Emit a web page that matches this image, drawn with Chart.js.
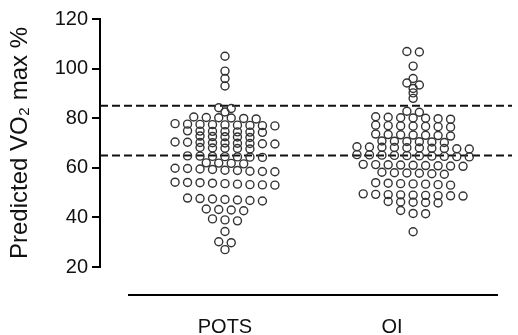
<!DOCTYPE html>
<html>
<head>
<meta charset="utf-8">
<script src="https://cdn.jsdelivr.net/npm/chart.js@4"></script>
<style>
  html, body { margin: 0; padding: 0; background: #fff; }
</style>
</head>
<body>
<canvas id="vo2Chart" width="518" height="335"></canvas>
<script>
// groups shown on the x axis
const groups = ["POTS", "OI"];
// where the group names sit under the baseline (x units)
const groupLabelPos = [1, 1.87];

// predicted VO2 max % per patient
const potsValues = [
  105, 99, 96, 93,
  84.2, 83.9,
  82.5,
  80.5, 80.3, 80.1, 79.9, 79.7, 80.2,
  77.6, 77.4, 77.2, 77.0, 77.5, 77.3, 77.1, 76.9, 77.8,
  74.8, 74.6, 74.4, 74.9, 74.5, 74.3, 74.7,
  72.6, 72.4, 72.2, 72.8, 72.5,
  70.2, 70.0, 69.8, 70.4, 69.6, 70.1, 69.9, 70.3, 69.7,
  68.0, 67.8, 67.6, 68.2, 67.9,
  64.8, 64.6, 64.4, 64.2, 64.7, 64.5, 64.3,
  62.0, 61.8, 61.6, 61.9,
  59.8, 59.5, 59.0, 58.6, 58.4, 58.5, 58.9, 59.3, 59.7,
  54.2, 54.0, 53.6, 53.2, 53.0, 53.1, 53.4, 53.8, 54.1,
  47.8, 47.4, 47.0, 46.6, 46.8, 47.2, 47.6,
  43.4, 43.0, 42.7, 43.2,
  39.4, 39.0, 38.6,
  34.3,
  30.2, 29.8,
  27
];

const oiValues = [
  106.9, 106.7, 101, 96, 94.2, 93.4, 92, 90.2, 88,
  82.8, 82.4,
  80.4, 80.2, 80.0, 79.8, 80.6, 79.6, 80.1,
  77.2, 77.0, 76.8, 76.6, 76.4, 76.9, 76.7,
  73.6, 73.4, 73.2, 73.0, 72.8, 73.3, 73.1,
  70.8, 70.6, 70.4, 70.2, 70.5, 70.7,
  68.5, 68.4, 68.2, 68.0, 67.8, 67.6, 68.3, 68.1, 67.9, 67.7,
  65.2, 65.0, 64.8, 64.6, 64.4, 65.1, 64.9, 64.7, 64.5, 65.3,
  61.4, 61.2, 61.0, 60.8, 60.6, 61.3, 61.1, 60.9, 60.7,
  58.2, 58.0, 57.8, 57.6, 57.4, 57.9,
  54.0, 53.8, 53.5, 53.2, 53.0, 53.4, 53.6,
  49.5, 49.2, 49.0, 48.8, 48.6, 49.3, 49.1, 48.9, 48.7,
  46.4, 46.2, 46.0, 45.8, 46.1,
  42.8, 41.6, 41.5,
  34.2
];

// dashed reference levels
const refLevels = [85, 65];

const yMin = 20, yMax = 120, yStep = 20;
const xMin = 0.349, xMax = 2.495;

// dot layout: values that are close share a row and are spread sideways
const ROW_TOL = 1.5;
const DOT_GAP = 0.065;

function swarm(values, center) {
  const sorted = values.slice().sort((a, b) => b - a);
  const rows = [];
  sorted.forEach(v => {
    const row = rows[rows.length - 1];
    if (row && row[0] - v <= ROW_TOL) row.push(v);
    else rows.push([v]);
  });
  const pts = [];
  rows.forEach(row => {
    row.forEach((v, i) => {
      pts.push({ x: center + (i - (row.length - 1) / 2) * DOT_GAP, y: v });
    });
  });
  return pts;
}

const dotStyle = {
  pointStyle: "circle",
  pointRadius: 4,
  pointHoverRadius: 4,
  pointBorderWidth: 1.4,
  pointBorderColor: "#333",
  pointBackgroundColor: "rgba(0,0,0,0)",
  showLine: false
};

const datasets = [
  Object.assign({ label: groups[0], data: swarm(potsValues, 1) }, dotStyle),
  Object.assign({ label: groups[1], data: swarm(oiValues, 1.98) }, dotStyle)
];

refLevels.forEach(level => {
  datasets.push({
    type: "line",
    label: "ref " + level,
    data: [{ x: xMin, y: level }, { x: xMax, y: level }],
    borderColor: "#111",
    borderWidth: 2,
    borderDash: [8, 4],
    pointRadius: 0,
    fill: false
  });
});

// Prism style category baseline, detached from the y axis
const baseLine = {
  id: "baseLine",
  afterDraw(chart) {
    const { ctx, chartArea } = chart;
    const y = chartArea.bottom + 28;
    ctx.save();
    ctx.strokeStyle = "#000";
    ctx.lineWidth = 2;
    ctx.beginPath();
    ctx.moveTo(chartArea.left + 28, y);
    ctx.lineTo(chartArea.right - 14, y);
    ctx.stroke();
    ctx.restore();
  }
};

const font = "'Liberation Sans', Arial, Helvetica, sans-serif";

new Chart(document.getElementById("vo2Chart"), {
  type: "scatter",
  data: { datasets },
  options: {
    responsive: false,
    animation: false,
    layout: { padding: { top: 19, right: 6, left: 0, bottom: 0 } },
    plugins: {
      legend: { display: false },
      tooltip: { enabled: false }
    },
    scales: {
      x: {
        type: "linear",
        min: xMin,
        max: xMax,
        grid: { display: false },
        border: { display: false },
        afterBuildTicks: scale => {
          scale.ticks = groupLabelPos.map(v => ({ value: v }));
        },
        afterFit: scale => { scale.height = 68; },
        ticks: {
          padding: 40,
          color: "#111",
          font: { family: font, size: 20 },
          callback: v => groups[groupLabelPos.indexOf(v)] || ""
        }
      },
      y: {
        min: yMin,
        max: yMax,
        afterFit: scale => { scale.width = 100; },
        grid: {
          drawOnChartArea: false,
          drawTicks: true,
          tickLength: 8,
          color: "#000",
          lineWidth: 2
        },
        border: { display: true, color: "#000", width: 2 },
        ticks: {
          stepSize: yStep,
          padding: 4,
          color: "#111",
          font: { family: font, size: 20 }
        },
        title: {
          display: true,
          text: "Predicted VO\u2082 max %",
          color: "#111",
          font: { family: font, size: 24 },
          padding: { top: 6, bottom: 0 }
        }
      }
    }
  },
  plugins: [baseLine]
});
</script>
</body>
</html>
